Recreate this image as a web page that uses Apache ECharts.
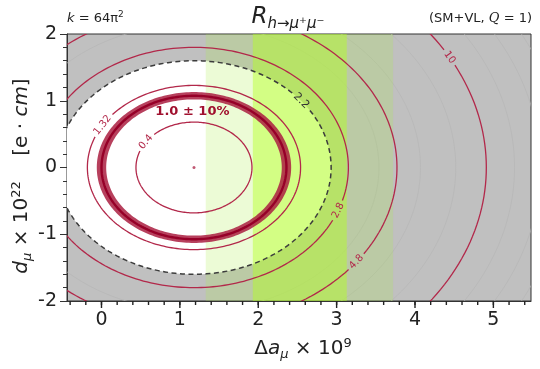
<!DOCTYPE html>
<html>
<head>
<meta charset="utf-8">
<script src="https://cdn.jsdelivr.net/npm/echarts@6/dist/echarts.min.js"></script>
<style>
  html, body { margin: 0; padding: 0; background: #fff; }
  #chart { width: 540px; height: 369px; }
</style>
</head>
<body>
<div id="chart"></div>
<script>
// centre of the contours (minimum of R) and the axis ranges
const centre = [1.18, 0];
const xRange = [-0.44, 5.48];
const yRange = [-2, 2];
const xTicks = [0, 1, 2, 3, 4, 5];

// labelled contours of R, with the semi-axes of each ellipse
const levels = ['0.4', '1.32', '2.2', '2.8', '4.8', '10'];
const levelRx = [0.74, 1.36, 1.75, 1.97, 2.59, 3.73];
const levelRy = [0.68, 1.23, 1.60, 1.80, 2.36, 3.40];

// thick "1.0 ± 10%" ring: inner edge, centre line, outer edge
const ringRx = [1.12, 1.18, 1.24];
const ringRy = [1.02, 1.075, 1.13];

// faint unlabelled contours in the grey region
const faintRx = [2.36, 2.89, 3.34, 4.09, 4.42, 4.72];
const faintRy = [2.15, 2.63, 3.04, 3.72, 4.02, 4.30];

// Δa_μ bands (2σ and 1σ)
const band2 = [1.33, 3.72];
const band1 = [1.93, 3.13];

// where the inline labels sit on each contour (degrees round the ellipse)
const labelDeg = [146, 149, 38.6, -21, -36.8, 29];
const ringLabelAt = [1.16, 0.84];

const RED = '#b2284a';
const FONT = 'DejaVu Sans';

// plot box in pixels
const G = { left: 67, right: 9, top: 34, bottom: 68 };

// minor ticks on the x axis every 0.2
const minorX = [];
for (let v = -0.4; v < 5.45; v += 0.2) minorX.push(Math.round(v * 10) / 10);

const chart = echarts.init(document.getElementById('chart'));

function ellipse (api, rx, ry, a0, a1, n) {
  const pts = [];
  for (let k = 0; k <= n; k++) {
    const t = (a0 + (a1 - a0) * k / n) * Math.PI / 180;
    pts.push(api.coord([centre[0] + rx * Math.cos(t), centre[1] + ry * Math.sin(t)]));
  }
  return pts;
}

function clipOf (params) {
  const c = params.coordSys;
  return { type: 'rect', shape: { x: c.x, y: c.y, width: c.width, height: c.height } };
}

function textWidth (s, size) {
  let w = 0;
  for (const ch of s) w += (ch === '.' ? 0.32 : 0.64) * size;
  return w;
}

// one contour with a gap for its inline label
function contour (api, rx, ry, label, deg, lineStyle, textColor, textSize) {
  const t = deg * Math.PI / 180;
  const d = 0.01;
  const at = a => api.coord([centre[0] + rx * Math.cos(a), centre[1] + ry * Math.sin(a)]);
  const p0 = at(t - d), p1 = at(t + d), pm = at(t);
  const speed = Math.hypot(p1[0] - p0[0], p1[1] - p0[1]) / (2 * d);
  const half = (textWidth(label, textSize) / 2 + 3) / speed * 180 / Math.PI;
  let rot = -Math.atan2(p1[1] - p0[1], p1[0] - p0[0]);
  if (rot > Math.PI / 2) rot -= Math.PI;
  if (rot < -Math.PI / 2) rot += Math.PI;
  return [
    { type: 'polyline', shape: { points: ellipse(api, rx, ry, deg + half, deg + 360 - half, 240) }, style: lineStyle },
    { type: 'text', x: pm[0], y: pm[1], rotation: rot,
      style: { text: label, fill: textColor, font: textSize + 'px ' + FONT, align: 'center', verticalAlign: 'middle' } },
  ];
}

// tick marks hanging below the x axis, drawn as markers on the bottom edge
function tickSeries (values, len) {
  return {
    type: 'scatter', clip: false, silent: true, z: 20, zlevel: 1,
    data: values.map(v => [v, yRange[0]]),
    symbol: 'rect', symbolSize: [1.4, len], symbolOffset: [0, len / 2],
    itemStyle: { color: '#222', opacity: 1 },
  };
}

const option = {
  animation: false,
  grid: { left: G.left, right: G.right, top: G.top, bottom: G.bottom, show: true, backgroundColor: '#c0c0c0', borderColor: '#333', borderWidth: 1 },
  xAxis: {
    type: 'value', min: xRange[0], max: xRange[1], position: 'bottom',
    axisLine: { show: true, onZero: false, lineStyle: { color: '#333' } },
    axisTick: { show: false },
    axisLabel: { customValues: xTicks, fontSize: 19, color: '#222', fontFamily: FONT, margin: 10 },
    splitLine: { show: false },
  },
  yAxis: {
    type: 'value', min: yRange[0], max: yRange[1], interval: 1,
    axisLine: { show: true, onZero: false, lineStyle: { color: '#333' } },
    axisTick: { show: true, length: 7, lineStyle: { color: '#333' } },
    minorTick: { show: true, splitNumber: 5, length: 4, lineStyle: { color: '#333' } },
    axisLabel: { fontSize: 19, color: '#222', fontFamily: FONT, margin: 10 },
    splitLine: { show: false },
  },
  graphic: [
    {
      type: 'text', left: 67, top: 10,
      style: {
        text: '{i|k} = 64π{sup|2}', fill: '#222',
        rich: {
          i: { fontSize: 13, fontStyle: 'italic', fontFamily: FONT, lineHeight: 18, verticalAlign: 'middle' },
          sup: { fontSize: 9, fontFamily: FONT, lineHeight: 9, verticalAlign: 'top' },
        },
        font: '13px ' + FONT, lineHeight: 18,
      },
    },
    {
      type: 'text', x: 288, y: 17,
      style: {
        text: '{R|R}{sub|h→μ⁺μ⁻}', fill: '#222', align: 'center', verticalAlign: 'middle',
        rich: {
          R: { fontSize: 23, fontStyle: 'italic', fontFamily: FONT, lineHeight: 30, verticalAlign: 'middle' },
          sub: { fontSize: 15, fontStyle: 'italic', fontFamily: FONT, lineHeight: 17, verticalAlign: 'bottom' },
        },
      },
    },
    {
      type: 'text', x: 532, y: 19,
      style: {
        text: '(SM+VL, {q|Q} = 1)', fill: '#222', align: 'right', verticalAlign: 'middle',
        font: '13px ' + FONT,
        rich: { q: { fontSize: 13, fontStyle: 'italic', fontFamily: 'DejaVu Serif' } },
      },
    },
    {
      type: 'text', x: 303, y: 349,
      style: {
        text: 'Δ{i|a}{sub|μ} × 10{sup|9}', fill: '#222', align: 'center', verticalAlign: 'middle',
        font: '20px ' + FONT,
        rich: {
          i: { fontSize: 20, fontStyle: 'italic', fontFamily: FONT, lineHeight: 24, verticalAlign: 'middle' },
          sub: { fontSize: 13, fontStyle: 'italic', fontFamily: FONT, lineHeight: 12, verticalAlign: 'bottom' },
          sup: { fontSize: 13, fontFamily: FONT, lineHeight: 12, verticalAlign: 'top' },
        },
      },
    },
    {
      type: 'text', x: 22, y: 176, rotation: Math.PI / 2,
      style: {
        text: '{i|d}{sub|μ} × 10{sup|22}    [e · {i|cm}]', fill: '#222', align: 'center', verticalAlign: 'middle',
        font: '20px ' + FONT,
        rich: {
          i: { fontSize: 20, fontStyle: 'italic', fontFamily: FONT, lineHeight: 24, verticalAlign: 'middle' },
          sub: { fontSize: 13, fontStyle: 'italic', fontFamily: FONT, lineHeight: 12, verticalAlign: 'bottom' },
          sup: { fontSize: 13, fontFamily: FONT, lineHeight: 12, verticalAlign: 'top' },
        },
      },
    },
  ],
  series: [
    {
      // faint grey contours
      type: 'custom', data: [centre],
      renderItem: (params, api) => ({
        type: 'group', clipPath: clipOf(params),
        children: faintRx.map((rx, i) => ({
          type: 'polyline', shape: { points: ellipse(api, rx, faintRy[i], 0, 360, 240) },
          style: { fill: null, stroke: '#b6b6b6', lineWidth: 0.7 },
        })),
      }),
    },
    {
      // allowed (white) region inside the dashed contour
      type: 'custom', data: [centre],
      renderItem: (params, api) => ({
        type: 'polygon', clipPath: clipOf(params),
        shape: { points: ellipse(api, levelRx[2], levelRy[2], 0, 360, 240) },
        style: { fill: '#ffffff' },
      }),
    },
    {
      // Δa_μ bands
      type: 'custom', data: [centre],
      renderItem: (params, api) => {
        const rect = (a, b, fill) => {
          const p = api.coord([a, yRange[1]]), q = api.coord([b, yRange[0]]);
          return { type: 'rect', shape: { x: p[0], y: p[1], width: q[0] - p[0], height: q[1] - p[1] }, style: { fill } };
        };
        const c2 = 'rgba(168,236,68,0.22)';
        return {
          type: 'group', clipPath: clipOf(params),
          children: [
            rect(band2[0], band1[0], c2),
            rect(band1[1], band2[1], c2),
            rect(band1[0], band1[1], 'rgba(177,253,36,0.56)'),
          ],
        };
      },
    },
    {
      // labelled contours
      type: 'custom', data: [centre],
      renderItem: (params, api) => {
        let children = [];
        levels.forEach((lv, i) => {
          const dashed = lv === '2.2';
          const ls = dashed
            ? { fill: null, stroke: '#3c3c3c', lineWidth: 1.5, lineDash: [5, 3.5] }
            : { fill: null, stroke: RED, lineWidth: 1.3 };
          children = children.concat(contour(api, levelRx[i], levelRy[i], lv, labelDeg[i], ls,
            dashed ? '#333' : RED, dashed ? 11 : 10));
        });
        return { type: 'group', clipPath: clipOf(params), children };
      },
    },
    {
      // 1.0 ± 10% ring
      type: 'custom', data: [centre],
      renderItem: (params, api) => {
        const outer = ellipse(api, ringRx[2], ringRy[2], 0, 360, 240);
        const inner = ellipse(api, ringRx[0], ringRy[0], 360, 0, 240);
        const lab = api.coord(ringLabelAt);
        return {
          type: 'group', clipPath: clipOf(params),
          children: [
            { type: 'polygon', shape: { points: outer.concat(inner) }, style: { fill: 'rgba(170,30,65,0.85)' } },
            { type: 'polyline', shape: { points: ellipse(api, ringRx[1], ringRy[1], 0, 360, 240) },
              style: { fill: null, stroke: '#960028', lineWidth: 2.4 } },
            { type: 'text', x: lab[0], y: lab[1],
              style: { text: '1.0 ± 10%', fill: '#a0102e', font: '600 13px ' + FONT, align: 'center', verticalAlign: 'middle' } },
          ],
        };
      },
    },
    {
      // best-fit point
      type: 'scatter', data: [centre], symbolSize: 3, itemStyle: { color: '#b03050' }, silent: true,
    },
    tickSeries(minorX, 4),
    tickSeries(xTicks, 7),
  ],
};

chart.setOption(option);
</script>
</body>
</html>
